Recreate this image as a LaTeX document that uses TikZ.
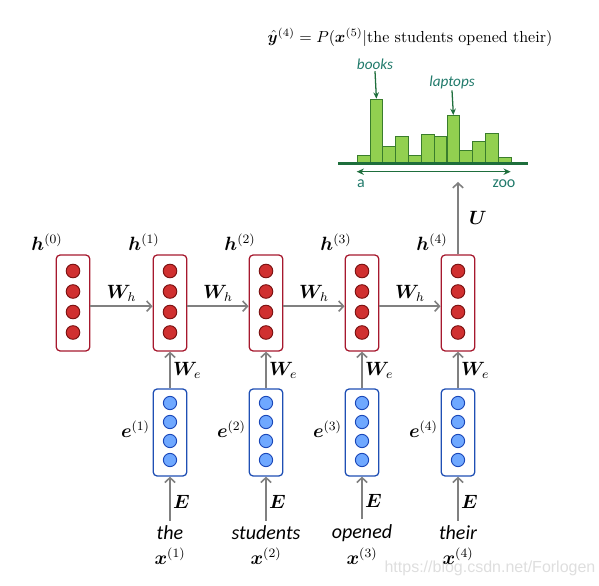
\documentclass[tikz,border=0pt]{standalone}
\usepackage{amsmath,bm}
\usepackage{fontspec}
\usetikzlibrary{arrows.meta,positioning}
\newfontfamily\wordfont{Carlito}
\newfontfamily\markfont{Liberation Sans}
\definecolor{hidEdge}{HTML}{A6192E}
\definecolor{dotRed}{HTML}{D03030}
\definecolor{dotRedEdge}{HTML}{7A1010}
\definecolor{embEdge}{HTML}{1F4FB4}
\definecolor{dotBlue}{HTML}{6FA8FF}
\definecolor{dotBlueEdge}{HTML}{1A47B8}
\definecolor{arrowGray}{HTML}{808080}
\definecolor{barGreen}{HTML}{92D050}
\definecolor{barEdge}{HTML}{3A7D2C}
\definecolor{axisGreen}{HTML}{1E6E3C}
\definecolor{histText}{HTML}{217A6B}

\begin{document}
\begin{tikzpicture}[x=0.625pt, y=-0.625pt,
      hid/.style={draw=hidEdge, rounded corners=2.5pt, line width=0.8pt,
                  minimum width=21pt, minimum height=60pt, inner sep=0pt},
      emb/.style={draw=embEdge, rounded corners=2.5pt, line width=0.8pt,
                  minimum width=21pt, minimum height=54.4pt, inner sep=0pt},
      hdot/.style={circle, draw=dotRedEdge, fill=dotRed, line width=0.6pt,
                   minimum size=8.5pt, inner sep=0pt},
      edot/.style={circle, draw=dotBlueEdge, fill=dotBlue, line width=0.6pt,
                   minimum size=8.3pt, inner sep=0pt},
      flow/.style={-{Straight Barb[length=3pt, width=6.5pt]}, line width=1pt, arrowGray},
      lbl/.style={font=\large, text=black, inner sep=1.5pt},
      word/.style={font=\wordfont\itshape\fontsize{12.5}{14}\selectfont, inner sep=1pt},
      bar/.style={draw=barEdge, fill=barGreen, line width=0.6pt, minimum width=8pt,
                  inner sep=0pt, anchor=south west},
      pointer/.style={-{Stealth[length=4pt, width=3.5pt]}, line width=0.8pt, axisGreen},
      hlab/.style={font=\wordfont\itshape\fontsize{9.5}{11}\selectfont, text=histText, inner sep=1pt},
      axlab/.style={font=\wordfont\fontsize{10}{12}\selectfont, text=histText, inner sep=1pt}
    ]
      \useasboundingbox (0,0) rectangle (599,586);

      % Watermark
      \node[text=black!13, font=\markfont\fontsize{10}{12}\selectfont] (mark) at (490,568) {https://blog.csdn.net/Forlogen};

      % Output formula
      \node (yhat) at (410,37) {$\hat{\bm{y}}^{(4)} = P(\bm{x}^{(5)}|\text{the students opened their})$};

      % Histogram
      \foreach \i/\hh in {1/7.3,2/63.3,3/16,4/26,5/7.3,6/28,7/26,8/47,9/12,10/21,11/29,12/5.3}
        \node[bar, minimum height=\hh*0.625pt] (b\i) at (356.7+\i*12.83-12.83,163) {};
      \draw[axisGreen, line width=1.4pt] (338,163.5) coordinate (axl) -- (528,163.5) coordinate (axr);
      \coordinate (va) at (356.7,171.7);
      \coordinate (vz) at (510.7,171.7);
      \draw[{Stealth[length=4.5pt, width=4pt]}-{Stealth[length=4.5pt, width=4pt]}, axisGreen, line width=0.9pt] (va) -- (vz);
      \node[axlab] (a) at (361,184) {a};
      \node[axlab] (zoo) at (504,184) {zoo};
      \node[hlab] (books) at (375,64) {books};
      \node[hlab] (laptops) at (452,82) {laptops};
      \draw[pointer] (books.south) -- (b2.north);
      \draw[pointer] (laptops.south) -- (b8.north);

      % Hidden states
      \foreach \c/\xx in {0/73,1/170,2/266,3/362,4/458} {
        \node[hid] (h\c) at (\xx,303) {};
        \foreach \k/\yy in {1/271,2/291.5,3/312,4/332.5}
          \node[hdot] (h\c-\k) at (\xx,\yy) {};
        \node[lbl, anchor=south east] (hl\c) at ([xshift=6pt, yshift=1pt]h\c.north west) {$\bm{h}^{(\c)}$};
      }

      % Embeddings
      \foreach \c/\xx in {1/170,2/266,3/362,4/458} {
        \node[emb] (e\c) at (\xx,432.5) {};
        \foreach \k/\yy in {1/403,2/422,3/441,4/460}
          \node[edot] (e\c-\k) at (\xx,\yy) {};
        \node[lbl, anchor=east] (el\c) at ([yshift=2pt]e\c.west) {$\bm{e}^{(\c)}$};
      }

      % Words
      \node[word] (w1) at (170,533) {the};
      \node[word] (w2) at (266,533) {students};
      \node[word] (w3) at (362,533) {opened};
      \node[word] (w4) at (458,533) {their};
      \foreach \c in {1,...,4}
        \node[lbl] (x\c) at (\c*96+74,556) {$\bm{x}^{(\c)}$};

      % Edges
      \foreach \c [evaluate=\c as \n using int(\c+1)] in {0,...,3}
        \draw[flow] ([yshift=-2pt]h\c.east) -- ([yshift=-2pt]h\n.west)
          node[midway, above, lbl, yshift=1pt] {$\bm{W}_h$};
      \foreach \c in {1,...,4} {
        \draw[flow] (e\c.north) -- (h\c.south) node[midway, right, lbl] {$\bm{W}_e$};
        \draw[flow] ([yshift=2pt]w\c.north) -- (e\c.south) node[midway, right, lbl, yshift=-2pt] {$\bm{E}$};
      }
      \coordinate (top) at (458,182);
      \draw[flow] (h4.north) -- (top) node[midway, right, lbl, xshift=5pt] {$\bm{U}$};
    \end{tikzpicture}
\end{document}
